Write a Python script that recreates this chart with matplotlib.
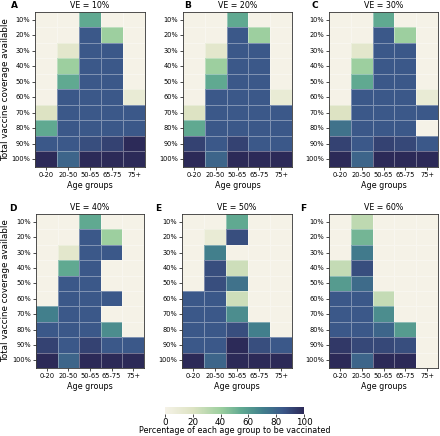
import matplotlib
matplotlib.use("Agg")
import matplotlib.pyplot as plt
import numpy as np
import seaborn as sns
from matplotlib.colors import LinearSegmentedColormap
from matplotlib.cm import ScalarMappable
from matplotlib.colors import Normalize

# Axis categories
age_groups = ["0-20", "20-50", "50-65", "65-75", "75+"]
coverage = ["10%", "20%", "30%", "40%", "50%", "60%", "70%", "80%", "90%", "100%"]
panel_letters = ["A", "B", "C", "D", "E", "F"]
ve_titles = ["VE = 10%", "VE = 20%", "VE = 30%", "VE = 40%", "VE = 50%", "VE = 60%"]

# Percentage of each age group vaccinated (rows = coverage, cols = age groups)
ve10 = [
    [0, 0, 55, 0, 0],
    [0, 0, 85, 40, 0],
    [0, 15, 85, 85, 0],
    [0, 40, 85, 85, 0],
    [0, 55, 85, 85, 0],
    [0, 85, 85, 85, 10],
    [20, 85, 85, 85, 85],
    [55, 85, 85, 85, 85],
    [85, 85, 88, 92, 100],
    [100, 80, 100, 100, 100],
]
ve20 = [
    [0, 0, 55, 0, 0],
    [0, 0, 85, 40, 0],
    [0, 15, 85, 85, 0],
    [0, 40, 85, 85, 0],
    [0, 55, 85, 85, 0],
    [0, 85, 85, 85, 10],
    [20, 85, 85, 85, 85],
    [55, 85, 85, 85, 85],
    [92, 85, 92, 85, 85],
    [100, 80, 100, 100, 100],
]
ve30 = [
    [0, 0, 55, 0, 0],
    [0, 0, 85, 40, 0],
    [0, 15, 85, 85, 0],
    [0, 40, 85, 85, 0],
    [0, 55, 85, 85, 0],
    [0, 85, 85, 85, 10],
    [20, 85, 85, 85, 85],
    [75, 85, 85, 85, 0],
    [92, 85, 92, 90, 85],
    [100, 80, 100, 100, 100],
]
ve40 = [
    [0, 0, 55, 0, 0],
    [0, 0, 85, 40, 0],
    [0, 15, 85, 85, 0],
    [0, 55, 85, 0, 0],
    [0, 85, 85, 0, 0],
    [0, 85, 85, 85, 0],
    [70, 85, 85, 0, 0],
    [85, 85, 85, 65, 0],
    [92, 85, 92, 85, 85],
    [100, 80, 100, 100, 100],
]
ve50 = [
    [0, 0, 55, 0, 0],
    [0, 10, 88, 0, 0],
    [0, 70, 0, 0, 0],
    [0, 88, 25, 0, 0],
    [0, 88, 75, 0, 0],
    [85, 85, 25, 0, 0],
    [85, 85, 65, 0, 0],
    [85, 85, 88, 70, 0],
    [85, 85, 100, 88, 85],
    [100, 80, 100, 100, 100],
]
ve60 = [
    [0, 30, 0, 0, 0],
    [0, 50, 0, 0, 0],
    [0, 72, 0, 0, 0],
    [28, 88, 0, 0, 0],
    [60, 78, 0, 0, 0],
    [85, 85, 28, 0, 0],
    [85, 85, 65, 0, 0],
    [85, 85, 80, 60, 0],
    [95, 90, 90, 88, 0],
    [100, 80, 100, 100, 0],
]
panels = [ve10, ve20, ve30, ve40, ve50, ve60]

cmap = LinearSegmentedColormap.from_list(
    "cream_navy",
    [(0.0, "#f5f2e7"), (0.2, "#dde3c3"), (0.4, "#9dcf9f"), (0.55, "#60a991"),
     (0.7, "#42808c"), (0.85, "#3b5889"), (1.0, "#2c2a58")],
)

W, H = 440, 436
fig = plt.figure(figsize=(W / 100, H / 100), dpi=100)

# axes boxes in pixels: left, top, right, bottom
boxes = [(35, 12, 145, 167), (183, 12, 292, 167), (329, 12, 438, 167),
         (36, 214, 144, 368), (182, 214, 292, 368), (329, 214, 438, 368)]
letter_pos = [(14, 6), (188, 6), (315, 6), (13, 208), (158, 208), (303, 208)]

for i, data in enumerate(panels):
    l, t, r, b = boxes[i]
    ax = fig.add_axes([l / W, 1 - b / H, (r - l) / W, (b - t) / H])
    sns.heatmap(np.array(data), ax=ax, cmap=cmap, vmin=0, vmax=100, cbar=False,
                linewidths=0.4, linecolor=(1, 1, 1, 0.35),
                xticklabels=age_groups, yticklabels=coverage)
    for sp in ax.spines.values():
        sp.set_visible(True)
        sp.set_color("#333333")
        sp.set_linewidth(0.6)
    ax.tick_params(labelsize=4.8, length=2, width=0.5, pad=1.5)
    ax.set_yticklabels(coverage, rotation=0)
    ax.set_xticklabels(age_groups, rotation=0)
    ax.set_xlabel("Age groups", fontsize=5.8, labelpad=2)
    if i % 3 == 0:
        ax.set_ylabel("Total vaccine coverage available", fontsize=6.3)
        ax.yaxis.set_label_coords((10 - l) / (r - l), 0.5)
    ax.set_title(ve_titles[i], fontsize=5.7, pad=3)
    lx, ly = letter_pos[i]
    fig.text(lx / W, 1 - ly / H, panel_letters[i], fontsize=6.5, fontweight="bold",
             ha="center", va="center")

cax = fig.add_axes([165 / W, 1 - 414 / H, (304 - 165) / W, 7 / H])
sm = ScalarMappable(norm=Normalize(0, 100), cmap=cmap)
cb = fig.colorbar(sm, cax=cax, orientation="horizontal", ticks=[0, 20, 40, 60, 80, 100])
cb.outline.set_visible(False)
cb.ax.tick_params(labelsize=6.3, length=2, width=0.5, pad=1)
cb.set_label("Percentage of each age group to be vaccinated", fontsize=5.8, labelpad=-1)

plt.savefig("out.png", dpi=100)
plt.close()
